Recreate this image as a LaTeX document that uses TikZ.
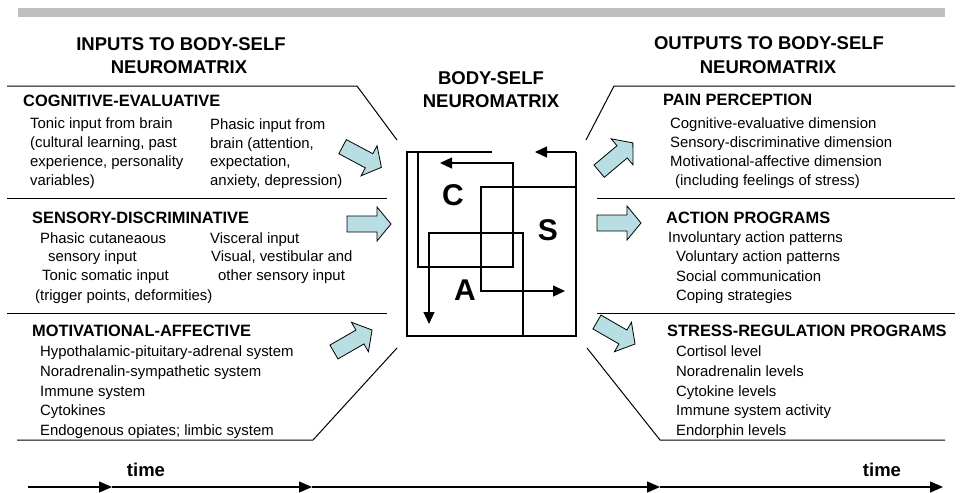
\documentclass[tikz,border=0pt]{standalone}
\usepackage{fontspec}
\setmainfont{Liberation Sans}
\usetikzlibrary{arrows.meta}

\definecolor{barGray}{RGB}{191,191,191}
\definecolor{arrowCyan}{RGB}{183,222,226}

\tikzset{
  hdr/.style={inner sep=0pt, font=\bfseries\fontsize{18.5}{20}\selectfont, text height=.716em, text depth=0pt},
  sect/.style={anchor=west, inner sep=0pt, font=\bfseries\fontsize{16.4}{18}\selectfont, text height=.716em, text depth=0pt},
  entry/.style={anchor=west, inner sep=0pt, font=\fontsize{14.9}{16}\selectfont, text height=.716em, text depth=0pt},
  bigletter/.style={inner sep=0pt, font=\bfseries\fontsize{30}{30}\selectfont, text height=.716em, text depth=0pt},
  divline/.style={line width=1pt},
  boxline/.style={line width=1.2pt},
  boxtip/.style={boxline, -{Triangle[length=12pt,width=11pt]}},
  timetip/.style={line width=1.2pt, -{Triangle[length=13pt,width=11pt]}},
  blockarrow/.style={fill=arrowCyan, draw=black, line width=0.8pt},
}

% block arrow: centre x, centre y, angle
\newcommand{\blockarrow}[3]{%
  \draw[blockarrow, shift={(#1,#2)}, rotate=#3]
    (-22,-8) -- (8,-8) -- (8,-17) -- (22,0) -- (8,17) -- (8,8) -- (-22,8) -- cycle;}

\begin{document}
\begin{tikzpicture}[x=1pt,y=-1pt]
  \useasboundingbox (0,0) rectangle (962,493);
  \fill[barGray] (18,8) rectangle (945,17);

  % headings
  \node[hdr] (inHeadA) at (181,47) {INPUTS TO BODY-SELF};
  \node[hdr] (inHeadB) at (179,70) {NEUROMATRIX};
  \node[hdr] (outHeadA) at (769,46) {OUTPUTS TO BODY-SELF};
  \node[hdr] (outHeadB) at (768,70) {NEUROMATRIX};
  \node[hdr] (midHeadA) at (491,81) {BODY-SELF};
  \node[hdr] (midHeadB) at (491,104) {NEUROMATRIX};

  % frames
  \draw[divline] (7,86) -- (357,86) -- (397,140);
  \draw[divline] (7,198) -- (387,198);
  \draw[divline] (7,313) -- (387,313);
  \draw[divline] (17,440) -- (313,440) -- (397,348);
  \draw[divline] (955,86) -- (614,86) -- (586,140);
  \draw[divline] (597,198) -- (955,198);
  \draw[divline] (597,313) -- (955,313);
  \draw[divline] (945,440) -- (660,440) -- (587,348);

  % inputs
  \node[sect] (cogEval) at (23,103) {COGNITIVE-EVALUATIVE};
  \foreach \t [count=\i from 0] in {{Tonic input from brain},{(cultural learning, past},{experience, personality},{variables)}}
    \node[entry] (tonic\i) at (30,125+19*\i) {\t};
  \foreach \t [count=\i from 0] in {{Phasic input from},{brain (attention,},{expectation,},{anxiety, depression)}}
    \node[entry] (phasic\i) at (210,126+18.7*\i) {\t};

  \node[sect] (sensDisc) at (32,220) {SENSORY-DISCRIMINATIVE};
  \node[entry] (cutA) at (40,240) {Phasic cutaneaous};
  \node[entry] (cutB) at (48,258) {sensory input};
  \node[entry] (somA) at (42,277) {Tonic somatic input};
  \node[entry] (somB) at (35,297) {(trigger points, deformities)};
  \node[entry] (visc) at (210,240) {Visceral input};
  \node[entry] (visA) at (211,258) {Visual, vestibular and};
  \node[entry] (visB) at (218,277) {other sensory input};

  \node[sect] (motAff) at (32,333) {MOTIVATIONAL-AFFECTIVE};
  \foreach \t [count=\i from 0] in {{Hypothalamic-pituitary-adrenal system},{Noradrenalin-sympathetic system},{Immune system},{Cytokines},{Endogenous opiates; limbic system}}
    \node[entry] (mot\i) at (40,353+19.75*\i) {\t};

  % outputs
  \node[sect] (pain) at (663,102) {PAIN PERCEPTION};
  \foreach \t [count=\i from 0] in {{Cognitive-evaluative dimension},{Sensory-discriminative dimension},{Motivational-affective dimension}}
    \node[entry] (dim\i) at (670,125+19*\i) {\t};
  \node[entry] (stressFeel) at (675,182) {(including feelings of stress)};

  \node[sect] (action) at (666,220) {ACTION PROGRAMS};
  \node[entry] (invol) at (668,239) {Involuntary action patterns};
  \foreach \t [count=\i from 1] in {{Voluntary action patterns},{Social communication},{Coping strategies}}
    \node[entry] (act\i) at (676,239+19.3*\i) {\t};

  \node[sect] (stressReg) at (667,333) {STRESS-REGULATION PROGRAMS};
  \foreach \t [count=\i from 0] in {{Cortisol level},{Noradrenalin levels},{Cytokine levels},{Immune system activity},{Endorphin levels}}
    \node[entry] (lvl\i) at (676,353+19.75*\i) {\t};

  % body-self neuromatrix
  \draw[boxline] (492,152) -- (407,152) -- (407,336) -- (576,336) -- (576,152);
  \draw[boxtip] (576,152) -- (535,152);
  \draw[boxtip] (418,152) -- (418,267) -- (513,267) -- (513,163) -- (440,163);
  \draw[boxtip] (576,187) -- (481,187) -- (481,291) -- (565,291);
  \draw[boxtip] (523,336) -- (523,233) -- (429,233) -- (429,324);
  \node[bigletter] (letC) at (453,202) {C};
  \node[bigletter] (letS) at (548,237) {S};
  \node[bigletter] (letA) at (465,297) {A};

  % block arrows
  \blockarrow{362}{157}{-28}
  \blockarrow{369}{224}{0}
  \blockarrow{353}{341}{30}
  \blockarrow{616}{157}{40}
  \blockarrow{619}{223}{0}
  \blockarrow{616}{333}{-30}

  % time axis
  \coordinate (t0) at (28,487);
  \coordinate (t1) at (112,487);
  \coordinate (t2) at (312,487);
  \coordinate (t3) at (660,487);
  \coordinate (t4) at (943,487);
  \draw[timetip] (t0) -- (t1);
  \draw[timetip] (t1) -- (t2);
  \draw[timetip] (t2) -- (t3);
  \draw[timetip] (t3) -- (t4);
  \node[hdr] (timeL) at (146,473) {time};
  \node[hdr] (timeR) at (882,473) {time};
\end{tikzpicture}
\end{document}
